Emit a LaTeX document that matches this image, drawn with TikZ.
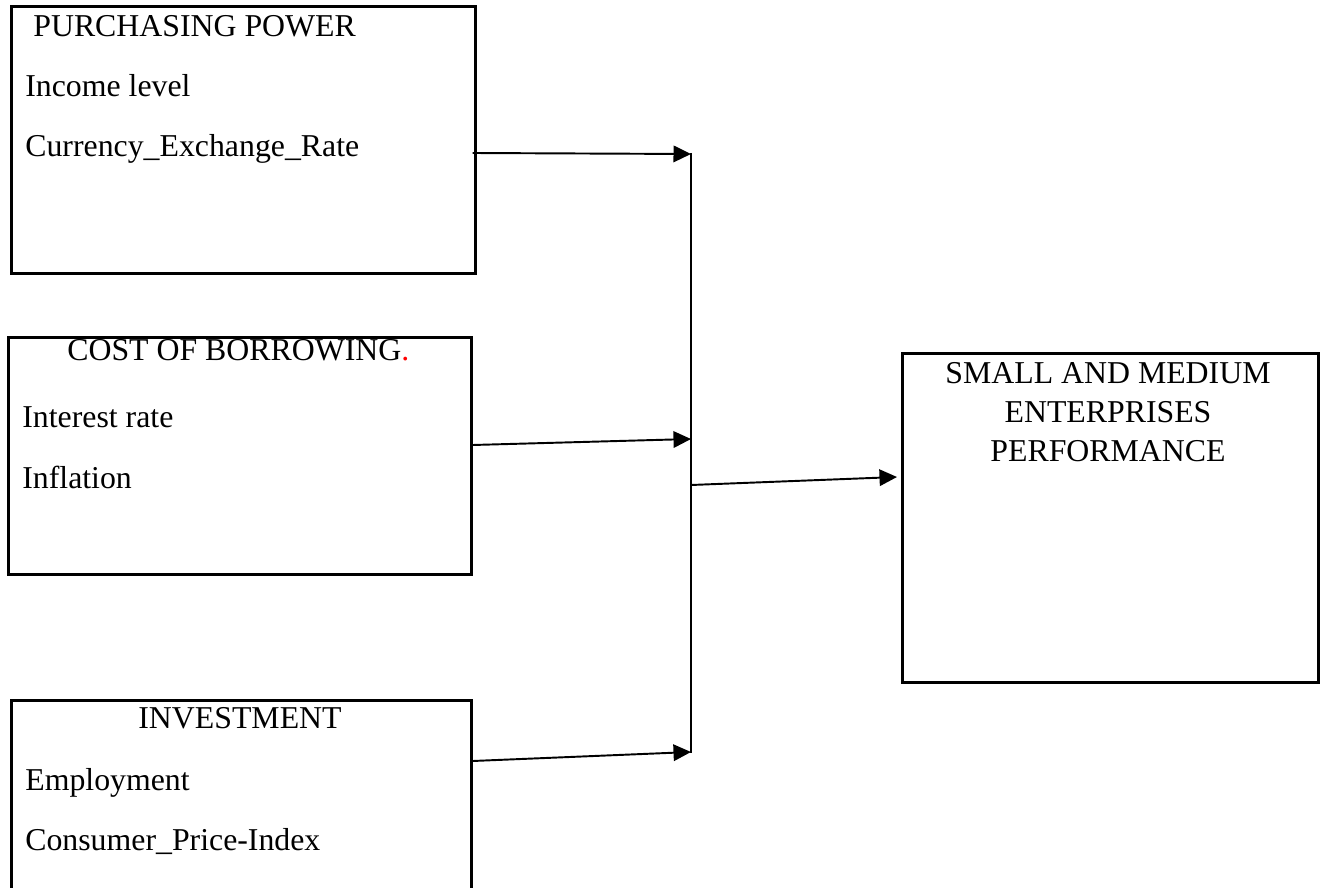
\documentclass[tikz,border=0pt]{standalone}
\usepackage{xcolor}
\usepackage{fontspec}
\setmainfont{Liberation Serif}
\usetikzlibrary{arrows.meta,positioning,calc}

\begin{document}
\begin{tikzpicture}[
    font=\fontsize{18.1}{22.1}\selectfont,
    factorbox/.style={
        rectangle,
        draw=black,
        line width=1.5pt,
        anchor=north west,
        inner sep=0pt
    },
    heading/.style={anchor=base west, inner sep=0pt},
    item/.style={anchor=base west, inner sep=0pt},
    link/.style={-{Triangle[length=3.5mm,width=3.3mm]}, line width=1.1pt, draw=black},
    bus/.style={line width=1pt, draw=black}
]

\useasboundingbox (0,0) rectangle (26.44,-17.76);
\clip (0,0) rectangle (26.44,-17.76);

% =========================================================
% Factor boxes
% =========================================================
\node[factorbox, minimum width=9.28cm, minimum height=5.34cm] (power) at (0.2,-0.1) {};
\node[factorbox, minimum width=9.26cm, minimum height=4.74cm] (borrow) at (0.14,-6.72) {};
\node[factorbox, minimum width=9.2cm, minimum height=4.3cm] (invest) at (0.2,-13.98) {};
\node[factorbox, minimum width=8.32cm, minimum height=6.58cm] (sme) at (18.02,-7.04) {};

% Box texts
\node[heading] (powertitle) at (0.66,-0.74) {PURCHASING POWER};
\node[item] (income) at (0.5,-1.94) {Income level};
\node[item] (exchange) at (0.5,-3.14) {Currency\_Exchange\_Rate};

\node[heading] (borrowtitle) at (1.34,-7.22) {COST OF BORROWING\textcolor{red}{.}};
\node[item] (interest) at (0.44,-8.54) {Interest rate};
\node[item] (inflation) at (0.44,-9.76) {Inflation};

\node[heading, anchor=base] (investtitle) at (4.8,-14.56) {INVESTMENT};
\node[item] (employ) at (0.5,-15.8) {Employment};
\node[item] (cpi) at (0.5,-17.0) {Consumer\_Price-Index};

% base sits on the last line here
\node[anchor=base, align=center, inner sep=0pt] (smetitle) at (22.16,-9.22)
    {SMALL AND MEDIUM\\ENTERPRISES\\PERFORMANCE};

% =========================================================
% Connectors
% =========================================================
\coordinate (bustop) at (13.82,-3.08);
\coordinate (busmid) at (13.82,-8.78);
\coordinate (busbot) at (13.82,-15.04);
\coordinate (busout) at (13.82,-9.7);

\draw[bus] (13.82,-3.06) -- (13.82,-15.06);

\draw[link] ($(power.north east)+(-0.08,-2.96)$) -- (bustop);
\draw[link] ($(borrow.north east)+(0,-2.18)$) -- (busmid);
\draw[link] ($(invest.north east)+(0,-1.24)$) -- (busbot);
\draw[link] (busout) -- ($(sme.north west)+(-0.08,-2.5)$);

\end{tikzpicture}
\end{document}
